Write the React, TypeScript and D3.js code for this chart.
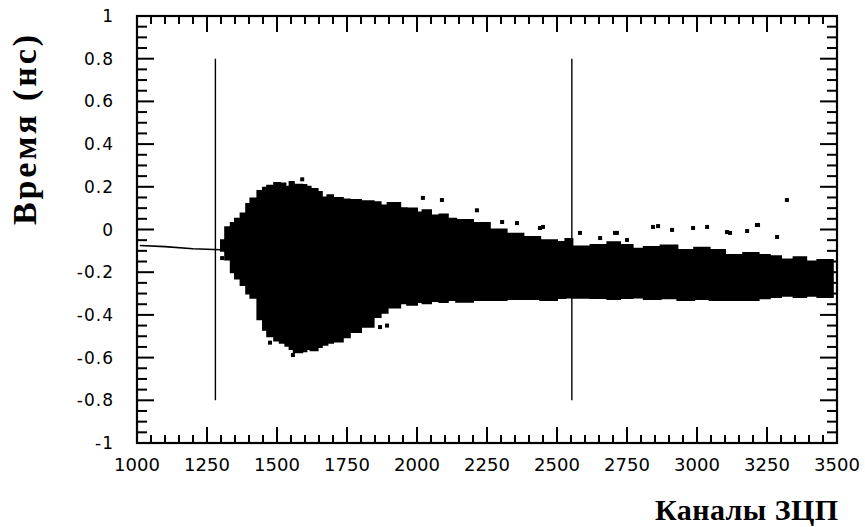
import React from "react";
import * as d3 from "d3";

// ---- data ----
const xTickValues = [1000, 1250, 1500, 1750, 2000, 2250, 2500, 2750, 3000, 3250, 3500];
const yTickValues = [-1, -0.8, -0.6, -0.4, -0.2, 0, 0.2, 0.4, 0.6, 0.8, 1];
const yTickLabels = ["-1", "-0.8", "-0.6", "-0.4", "-0.2", "0", "0.2", "0.4", "0.6", "0.8", "1"];

// minor tick grid
const xMinorTicks = [1000, 1050, 1100, 1150, 1200, 1250, 1300, 1350, 1400, 1450, 1500, 1550, 1600, 1650, 1700, 1750, 1800, 1850, 1900, 1950, 2000, 2050, 2100, 2150, 2200, 2250, 2300, 2350, 2400, 2450, 2500, 2550, 2600, 2650, 2700, 2750, 2800, 2850, 2900, 2950, 3000, 3050, 3100, 3150, 3200, 3250, 3300, 3350, 3400, 3450, 3500];
const yMinorTicks = [-1, -0.95, -0.9, -0.85, -0.8, -0.75, -0.7, -0.65, -0.6, -0.55, -0.5, -0.45, -0.4, -0.35, -0.3, -0.25, -0.2, -0.15, -0.1, -0.05, 0, 0.05, 0.1, 0.15, 0.2, 0.25, 0.3, 0.35, 0.4, 0.45, 0.5, 0.55, 0.6, 0.65, 0.7, 0.75, 0.8, 0.85, 0.9, 0.95, 1];

// envelope of the dense scatter (ADC channel, upper time, lower time)
const envChannel = [1300, 1315, 1335, 1350, 1370, 1390, 1405, 1430, 1450, 1465, 1490, 1510, 1530, 1545, 1560, 1590, 1605, 1620, 1645, 1660, 1680, 1700, 1735, 1760, 1800, 1845, 1870, 1895, 1940, 1965, 2000, 2020, 2050, 2080, 2110, 2140, 2200, 2260, 2320, 2380, 2440, 2500, 2530, 2555, 2620, 2680, 2725, 2770, 2810, 2870, 2930, 2990, 3045, 3100, 3165, 3220, 3260, 3300, 3345, 3390, 3430, 3485];
const envUpper = [-0.05, 0.01, 0.03, 0.05, 0.075, 0.12, 0.145, 0.18, 0.195, 0.205, 0.218, 0.215, 0.2, 0.222, 0.21, 0.208, 0.2, 0.19, 0.176, 0.15, 0.16, 0.148, 0.14, 0.138, 0.132, 0.128, 0.112, 0.124, 0.1, 0.098, 0.08, 0.09, 0.065, 0.07, 0.05, 0.044, 0.03, 0.0, -0.02, -0.035, -0.05, -0.059, -0.045, -0.08, -0.073, -0.06, -0.073, -0.09, -0.082, -0.075, -0.096, -0.085, -0.096, -0.12, -0.11, -0.12, -0.125, -0.14, -0.13, -0.15, -0.143, -0.157];
const envLower = [-0.1, -0.14, -0.2, -0.23, -0.26, -0.3, -0.32, -0.42, -0.47, -0.5, -0.52, -0.53, -0.545, -0.56, -0.575, -0.57, -0.56, -0.565, -0.55, -0.54, -0.53, -0.525, -0.505, -0.48, -0.455, -0.41, -0.39, -0.365, -0.345, -0.352, -0.34, -0.345, -0.335, -0.34, -0.33, -0.338, -0.33, -0.33, -0.325, -0.325, -0.33, -0.321, -0.318, -0.32, -0.321, -0.325, -0.321, -0.318, -0.325, -0.322, -0.33, -0.325, -0.33, -0.33, -0.33, -0.322, -0.316, -0.31, -0.316, -0.31, -0.316, -0.297];

// isolated points outside the dense region
const strayChannel = [1590, 2021, 2089, 2214, 2304, 2357, 2439, 2450, 2582, 2654, 2707, 2714, 2750, 2843, 2861, 2911, 2986, 3036, 3107, 3118, 3179, 3214, 3218, 3286, 3321, 1304, 1557, 1475, 1868, 1893];
const strayTime = [0.235, 0.148, 0.138, 0.09, 0.035, 0.03, 0.007, 0.012, -0.016, -0.04, -0.016, -0.016, -0.049, 0.012, 0.016, -0.002, 0.007, 0.012, -0.012, -0.016, -0.007, 0.021, 0.021, -0.035, 0.138, -0.134, -0.588, -0.53, -0.457, -0.45];

// low-amplitude baseline trace
const traceChannel = [1010, 1100, 1200, 1300];
const traceTime = [-0.075, -0.08, -0.09, -0.095];

// vertical threshold markers
const markerChannel = [1280, 2553];
const markerTop = 0.8;
const markerBottom = -0.8;

export default function App() {
  const L = 137, R = 837, T = 16, B = 443;
  const x = d3.scaleLinear().domain([1000, 3500]).range([L, R]);
  const y = d3.scaleLinear().domain([-1, 1]).range([B, T]);

  const area = d3
    .area<number>()
    .x((d, i) => x(envChannel[i]))
    .y0((d, i) => y(envLower[i]))
    .y1((d, i) => y(envUpper[i]))
    .curve(d3.curveStepAfter);

  const line = d3
    .line<number>()
    .x((d, i) => x(traceChannel[i]))
    .y((d, i) => y(traceTime[i]));

  const tw = 2;
  const tickRects: React.ReactElement[] = [];
  xMinorTicks.forEach((v, i) => {
    const len = i % 5 === 0 ? 16 : 8;
    const px = x(v);
    tickRects.push(<rect key={"xb" + i} x={px - tw / 2} y={B - len} width={tw} height={len} fill="#000" />);
    tickRects.push(<rect key={"xt" + i} x={px - tw / 2} y={T} width={tw} height={len} fill="#000" />);
  });
  yMinorTicks.forEach((v, i) => {
    const len = i % 4 === 0 ? 17 : 10;
    const py = y(v);
    tickRects.push(<rect key={"yl" + i} x={L} y={py - tw / 2} width={len} height={tw} fill="#000" />);
    tickRects.push(<rect key={"yr" + i} x={R - len} y={py - tw / 2} width={len} height={tw} fill="#000" />);
  });

  const tickFont = "'DejaVu Sans', sans-serif";
  const titleFont = "'Liberation Serif', 'Times New Roman', serif";

  return (
    <svg
      width={865}
      height={527}
      style={{ position: "absolute", left: 0, top: 0, background: "#fff" }}
    >
      {/* dense scatter */}
      <path d={area(envChannel) || ""} fill="#000" stroke="#000" strokeWidth={2} />
      {strayChannel.map((c, i) => (
        <rect key={"s" + i} x={x(c) - 2} y={y(strayTime[i]) - 2} width={4} height={4} fill="#000" />
      ))}
      {/* baseline trace */}
      <path d={line(traceChannel) || ""} fill="none" stroke="#000" strokeWidth={1.6} />
      {/* markers */}
      {markerChannel.map((c, i) => (
        <line key={"m" + i} x1={x(c)} x2={x(c)} y1={y(markerTop)} y2={y(markerBottom)} stroke="#000" strokeWidth={1.4} />
      ))}

      {/* frame */}
      <rect x={L} y={T} width={R - L} height={B - T} fill="none" stroke="#000" strokeWidth={2.2} />
      {/* ticks */}
      <g>{tickRects}</g>

      {/* x tick labels */}
      {xTickValues.map((v, i) => (
        <text key={"xl" + i} x={x(v)} y={471} textAnchor="middle" fontFamily={tickFont} fontSize={18} fill="#000">
          {String(v)}
        </text>
      ))}
      {/* y tick labels */}
      {yTickValues.map((v, i) => (
        <text key={"ylab" + i} x={114} y={y(v) + 6} textAnchor="end" fontFamily={tickFont} fontSize={17} letterSpacing={1} fill="#000">
          {yTickLabels[i]}
        </text>
      ))}

      {/* axis titles */}
      <text
        transform="translate(36,130) rotate(-90)"
        textAnchor="middle"
        fontFamily={titleFont}
        fontWeight="bold"
        fontSize={34}
        fill="#000"
        textLength={190}
        lengthAdjust="spacing"
      >
        Время (нс)
      </text>
      <text
        x={655}
        y={520}
        fontFamily={titleFont}
        fontWeight="bold"
        fontSize={30}
        fill="#000"
        textLength={183}
        lengthAdjust="spacing"
      >
        Каналы ЗЦП
      </text>
    </svg>
  );
}
